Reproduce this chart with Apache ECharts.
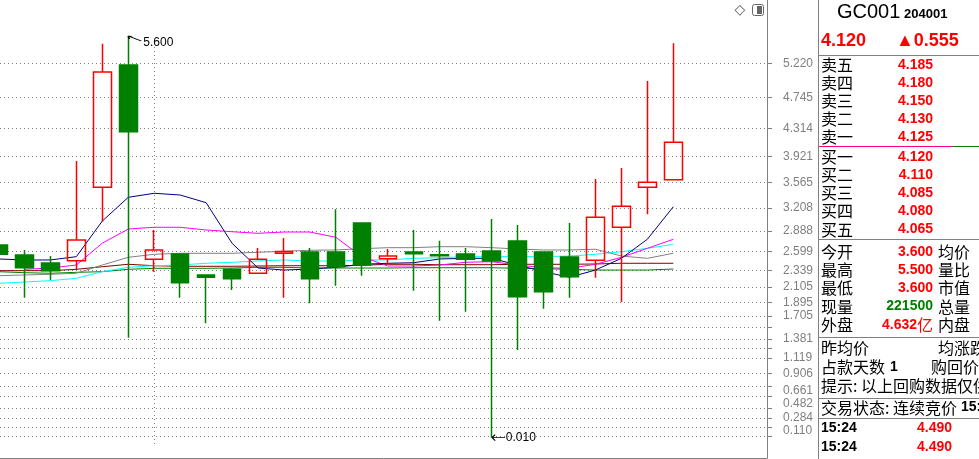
<!DOCTYPE html>
<html><head><meta charset="utf-8">
<script src="https://cdn.jsdelivr.net/npm/echarts@6/dist/echarts.min.js"></script>
<style>html,body{margin:0;padding:0;background:#fff;overflow:hidden}#c{width:979px;height:459px}</style>
</head><body><div id="c"></div>
<script>
// ---- data ----
const categories = ['1','2','3','4','5','6','7','8','9','10','11','12','13','14','15','16','17','18','19','20','21','22','23','24','25','26','27'];
const openVals  = [2.691,2.552,2.441,2.473,3.494,5.196,2.492,2.566,2.274,2.353,2.298,2.575,2.594,2.594,2.997,2.501,2.594,2.556,2.566,2.608,2.747,2.594,2.524,2.478,2.938,3.494,3.600];
const closeVals = [2.562,2.375,2.334,2.761,5.099,4.268,2.622,2.167,2.242,2.222,2.492,2.600,2.222,2.389,2.413,2.538,2.570,2.543,2.492,2.469,1.972,2.041,2.250,3.077,3.230,3.565,4.120];
const lowVals   = [2.550,1.958,2.204,2.343,3.016,1.401,2.320,1.958,1.602,2.065,2.298,1.958,1.880,2.125,2.264,2.437,2.055,1.638,1.763,0.010,1.230,1.805,1.958,2.236,1.898,3.119,3.600];
const highVals  = [2.700,2.622,2.538,3.860,5.493,5.600,2.900,2.566,2.274,2.367,2.650,2.789,2.650,3.188,2.997,2.636,2.900,2.751,2.650,3.053,2.970,2.594,2.997,3.610,3.763,4.974,5.500];

const maNavy    = [2.497,2.483,2.483,2.529,3.025,3.355,3.411,3.387,3.280,2.715,2.371,2.343,2.357,2.381,2.423,2.437,2.445,2.497,2.506,2.506,2.413,2.320,2.242,2.343,2.506,2.771,3.224];
const maMagenta = [null,2.353,2.371,2.413,2.717,2.914,2.938,2.938,2.900,2.876,2.854,2.872,2.872,2.798,2.529,2.399,2.399,2.413,2.451,2.459,2.413,2.375,2.367,2.423,2.520,2.645,2.771];
const maGray    = [2.264,2.274,2.284,2.298,2.413,2.520,2.562,2.576,2.576,2.576,2.590,2.604,2.618,2.622,2.640,2.654,2.654,2.668,2.668,2.654,2.636,2.622,2.622,2.632,2.538,2.506,2.576];
const maCyan    = [2.158,2.176,2.195,2.228,2.320,2.381,2.403,2.413,2.437,2.451,2.469,2.483,2.469,2.469,2.483,2.483,2.506,2.515,2.529,2.529,2.529,2.529,2.538,2.562,2.598,2.645,2.701];
const maDarkRed = [2.334,2.334,2.334,2.353,2.389,2.423,2.403,2.395,2.395,2.395,2.399,2.403,2.403,2.403,2.409,2.423,2.423,2.417,2.417,2.417,2.423,2.423,2.423,2.427,2.437,2.437,2.437];
const maGreen   = [2.320,2.306,2.298,2.311,2.320,2.353,2.367,2.367,2.367,2.371,2.381,2.381,2.371,2.371,2.371,2.371,2.375,2.375,2.375,2.375,2.367,2.362,2.353,2.343,2.343,2.343,2.357];

const gridTickValues  = [5.220,4.745,4.314,3.921,3.565,3.208,2.888,2.599,2.339,2.105,1.895,1.705,1.546,1.381,1.248,1.119,0.906,0.729,0.590,0.423,0.284,0.159,0.033];
const labelTickValues = [5.220,4.745,4.314,3.921,3.565,3.208,2.888,2.599,2.339,2.105,1.895,1.705,1.381,1.119,0.906,0.661,0.482,0.284,0.110];

const highIndex = 5, lowIndex = 19, dividerIndex = 6;
const dividerSpan = [5.5, -0.09];

// right panel text
const stockCode = 'GC001', stockNum = '204001';
const lastPrice = '4.120', change = '▲0.555';
const askLabels = ['卖五','卖四','卖三','卖二','卖一'];
const askPrices = ['4.185','4.180','4.150','4.130','4.125'];
const bidLabels = ['买一','买二','买三','买四','买五'];
const bidPrices = ['4.120','4.110','4.085','4.080','4.065'];
const statLabels = ['今开','最高','最低','现量','外盘'];
const statValues = ['3.600','5.500','3.600','221500','4.632'];
const statRight  = ['均价','量比','市值','总量','内盘'];
const tickTimes  = ['15:24','15:24'];
const tickPrices = ['4.490','4.490'];

// ---- chart ----
const RED = '#ff0000', GRN = '#008000', GRAYC = '#808080';
const CJK = '16px "Noto Sans CJK SC"';
const NUM = 'bold 14px "Liberation Sans", Arial';

function txt(x, y, text, font, fill, align) {
  return { type: 'text', x: x, y: y, silent: true, z: 10,
    style: { text: text, font: font, fill: fill, align: align || 'left', verticalAlign: 'middle',
             textAlign: align || 'left', textVerticalAlign: 'middle' } };
}
function hline(x1, x2, y, color) {
  return { type: 'line', silent: true, z: 10, shape: { x1: x1, y1: y, x2: x2, y2: y }, style: { stroke: color, lineWidth: 1 } };
}

const g = [];
g.push(txt(740, 10, '◇', '14px "DejaVu Sans"', '#555', 'center'));
g.push({ type: 'rect', silent: true, shape: { x: 752.5, y: 4.5, width: 11, height: 11, r: 2 }, style: { fill: '#fff', stroke: '#666', lineWidth: 1 } });
g.push({ type: 'rect', silent: true, shape: { x: 757, y: 6, width: 5, height: 8 }, style: { fill: '#666' } });
g.push({ type: 'line', silent: true, shape: { x1: 818.5, y1: 0, x2: 818.5, y2: 459 }, style: { stroke: GRAYC, lineWidth: 1 } });
g.push(hline(819, 979, 55.5, GRAYC));
g.push(hline(819, 953, 146.5, '#ff0080'));
g.push(hline(953, 979, 146.5, GRN));
g.push(hline(819, 979, 239.5, GRAYC));
g.push(hline(819, 979, 337.5, GRAYC));
g.push(hline(819, 979, 398.5, GRAYC));
g.push(hline(819, 979, 418.5, GRAYC));
g.push(txt(837, 12.5, stockCode, '20px "Liberation Sans", Arial', '#000'));
g.push(txt(904, 14.8, stockNum, 'bold 13px "Liberation Sans", Arial', '#000'));
g.push(txt(821, 41, lastPrice, 'bold 18px "Liberation Sans", Arial', RED));
g.push(txt(896, 41, change, 'bold 18px "Liberation Sans", Arial', RED));
askLabels.forEach((l, i) => { const y = 65 + i * 18; g.push(txt(821, y, l, CJK, '#000')); g.push(txt(933, y, askPrices[i], NUM, RED, 'right')); });
bidLabels.forEach((l, i) => { const y = 156.7 + i * 18.2; g.push(txt(821, y, l, CJK, '#000')); g.push(txt(933, y, bidPrices[i], NUM, RED, 'right')); });
statLabels.forEach((l, i) => {
  const y = 251.7 + i * 18.3;
  g.push(txt(821, y, l, CJK, '#000'));
  if (i === 3) g.push(txt(933, y, statValues[i], NUM, GRN, 'right'));
  else if (i === 4) { g.push(txt(917, y, statValues[i], NUM, RED, 'right')); g.push(txt(917, y, '亿', CJK, RED)); }
  else g.push(txt(933, y, statValues[i], NUM, RED, 'right'));
  g.push(txt(938, y, statRight[i], CJK, '#000'));
});
g.push(txt(821, 347.7, '昨均价', CJK, '#000'));
g.push(txt(938, 347.7, '均涨跌', CJK, '#000'));
g.push(txt(821, 366.7, '占款天数', CJK, '#000'));
g.push(txt(890, 366.7, '1', NUM, '#000'));
g.push(txt(931, 366.7, '购回价', CJK, '#000'));
g.push(txt(821, 386, '提示: 以上回购数据仅供参考', CJK, '#000'));
g.push(txt(821, 407.5, '交易状态: 连续竞价', CJK, '#000'));
g.push(txt(961, 407.5, '15:24', NUM, '#000'));
tickTimes.forEach((t, i) => { const y = 428.3 + i * 18.4; g.push(txt(821, y, t, NUM, '#000')); g.push(txt(952, y, tickPrices[i], NUM, RED, 'right')); });

// candles and lines positioned by category index on a value x-axis
const candleData = categories.map((c, i) => [i, openVals[i], closeVals[i], lowVals[i], highVals[i]]);
function maSeries(vals, color) {
  const data = categories.map((c, i) => [i, vals[i]]).filter(d => d[1] != null);
  return { type: 'line', data: data, symbol: 'none', z: 2, silent: true, lineStyle: { width: 1, color: color }, itemStyle: { color: color } };
}

const chart = echarts.init(document.getElementById('c'), null, { renderer: 'canvas' });
chart.setOption({
  animation: false,
  backgroundColor: '#fff',
  grid: { left: 0, right: 212, top: 0, bottom: 1 },
  xAxis: { type: 'value', min: 0.0578, max: 29.61,
    axisLine: { show: true, onZero: false, lineStyle: { color: GRAYC, width: 1 } }, axisTick: { show: false }, axisLabel: { show: false }, splitLine: { show: false } },
  yAxis: { type: 'value', position: 'right', min: -0.2727, max: 6.1007,
    axisLine: { show: true, lineStyle: { color: GRAYC, width: 1 } },
    axisTick: { show: true, inside: false, length: 5, lineStyle: { color: GRAYC }, customValues: gridTickValues },
    axisLabel: { show: true, margin: 16, color: '#808080', fontFamily: '"Liberation Sans", Arial', fontSize: 12, customValues: labelTickValues, formatter: v => Number(v).toFixed(3) },
    splitLine: { show: true, lineStyle: { color: GRAYC, width: 1, type: [1, 3] } } },
  series: [
    maSeries(maGreen, '#008000'),
    maSeries(maDarkRed, '#800000'),
    maSeries(maCyan, '#00ffff'),
    maSeries(maGray, '#808080'),
    maSeries(maMagenta, '#ff00ff'),
    maSeries(maNavy, '#000080'),
    { type: 'candlestick', data: candleData, encode: { x: 0, y: [1, 2, 3, 4] }, z: 3, barWidth: 18,
      itemStyle: { color: 'rgba(0,0,0,0)', color0: GRN, borderColor: RED, borderColor0: GRN, borderWidth: 1.5 },
      markPoint: { silent: true, animation: false,
        data: [
          { coord: [highIndex, highVals[highIndex]], value: highVals[highIndex],
            symbol: 'path://M0,0 L13,5 M0,0 L4,0.3 M0,0 L1,3', symbolSize: [13, 5], symbolOffset: [6.5, 2.5], symbolKeepAspect: false,
            itemStyle: { color: 'none', borderColor: '#000', borderWidth: 1 },
            label: { show: true, position: 'right', distance: 0, offset: [-2, 4], color: '#000', fontSize: 12, fontFamily: '"Liberation Sans", Arial', formatter: p => Number(p.value).toFixed(3) } },
          { coord: [lowIndex, lowVals[lowIndex]], value: lowVals[lowIndex],
            symbol: 'path://M0,3 L13,3 M0,3 L3,0 M0,3 L3,6', symbolSize: [13, 6], symbolOffset: [7, 0], symbolKeepAspect: false,
            itemStyle: { color: 'none', borderColor: '#000', borderWidth: 1 },
            label: { show: true, position: 'right', distance: 0, offset: [-3, 0], color: '#000', fontSize: 12, fontFamily: '"Liberation Sans", Arial', formatter: p => Number(p.value).toFixed(3) } }
        ] } }
  ],
  graphic: g
});

// dotted period divider, positioned through the chart's own scales
const pTop = chart.convertToPixel({ gridIndex: 0 }, [dividerIndex, dividerSpan[0]]);
const pBot = chart.convertToPixel({ gridIndex: 0 }, [dividerIndex, dividerSpan[1]]);
const dx = Math.round(pTop[0]) + 0.5;
g.push({ type: 'line', silent: true, z: 1, shape: { x1: dx, y1: Math.round(pTop[1]), x2: dx, y2: Math.round(pBot[1]) },
  style: { stroke: GRAYC, lineWidth: 1, lineDash: [1, 3] } });
chart.setOption({ graphic: g });
</script></body></html>
